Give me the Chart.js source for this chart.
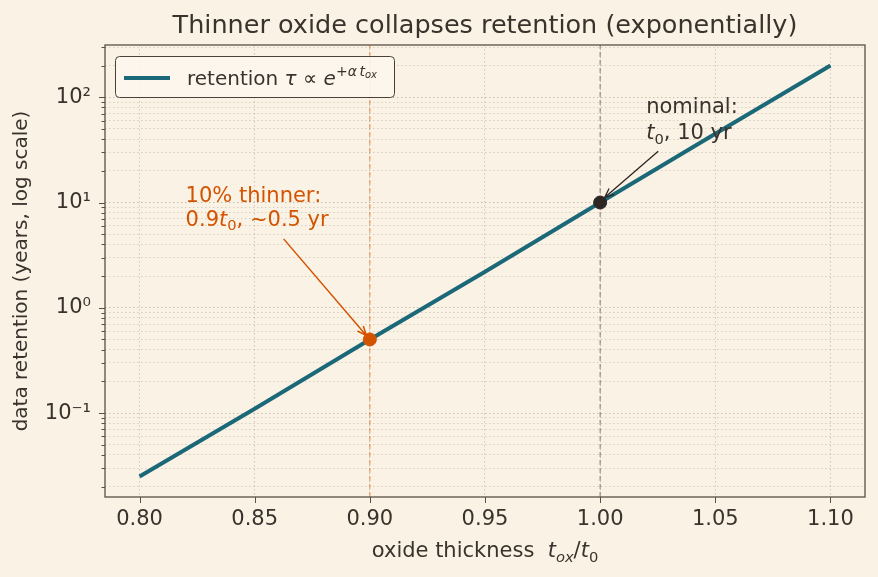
<!DOCTYPE html>
<html>
<head>
<meta charset="utf-8">
<script src="https://cdn.jsdelivr.net/npm/chart.js@4.4.0/dist/chart.umd.min.js"></script>
<style>
  html, body { margin: 0; padding: 0; background: #faf2e4; }
  canvas { display: block; }
</style>
</head>
<body>
<canvas id="myChart" width="878" height="577"></canvas>
<script>
// valeurs
const tox = [0.80, 0.85, 0.90, 0.95, 1.00, 1.05, 1.10];
const retention = [0.025, 0.11, 0.5, 2.2, 10, 45, 200];
const xTicks = [0.80, 0.85, 0.90, 0.95, 1.00, 1.05, 1.10];
const yDecades = [-2, -1, 0, 1, 2];
const thinPoint = [0.90, 0.5];
const nominalPoint = [1.00, 10];
const xRange = [0.785, 1.115];
const yRange = [0.01595, 313.5];
const thinText = [0.82, 6];
const nominalText = [1.02, 40];

const FONT = '"DejaVu Sans", sans-serif';
const FS = 21;
const BG = '#faf2e4';
const TEXT = '#3a322d';
const TEAL = '#1b6878';
const ORANGE = '#d35400';
const DARK = '#2e2622';
const SPINE = '#5a4f45';

// ticks du log : 1..9 x 10^n
const yTickValues = [];
yDecades.forEach(n => {
    for (let k = 1; k <= 9; k++) {
        const v = k * Math.pow(10, n);
        if (v >= yRange[0] && v <= yRange[1]) yTickValues.push(v);
    }
});

function isDecade(v) {
    const l = Math.log10(v);
    return Math.abs(l - Math.round(l)) < 1e-6;
}

const SUP = { '-': '⁻', '0': '⁰', '1': '¹', '2': '²', '3': '³', '4': '⁴', '5': '⁵', '6': '⁶', '7': '⁷', '8': '⁸', '9': '⁹' };
function powLabel(v) {
    const e = String(Math.round(Math.log10(v)));
    return '10' + e.split('').map(c => SUP[c]).join('');
}

// texte "riche" (italique, indices, exposants)
function drawRich(ctx, x, y, parts, base, color, dry) {
    ctx.save();
    ctx.fillStyle = color;
    ctx.textBaseline = 'alphabetic';
    ctx.textAlign = 'left';
    let cx = x;
    parts.forEach(p => {
        const size = base * (p.s || 1);
        ctx.font = (p.i ? 'italic ' : '') + size + 'px ' + FONT;
        if (!dry) ctx.fillText(p.t, cx, y - (p.dy || 0) * base);
        cx += ctx.measureText(p.t).width;
    });
    ctx.restore();
    return cx - x;
}

function arrow(ctx, x0, y0, x1, y1, color, lw) {
    const a = Math.atan2(y1 - y0, x1 - x0);
    const h = 10, w = 0.4;
    ctx.save();
    ctx.strokeStyle = color;
    ctx.lineWidth = lw;
    ctx.beginPath();
    ctx.moveTo(x0, y0);
    ctx.lineTo(x1, y1);
    ctx.moveTo(x1 - h * Math.cos(a - w), y1 - h * Math.sin(a - w));
    ctx.lineTo(x1, y1);
    ctx.lineTo(x1 - h * Math.cos(a + w), y1 - h * Math.sin(a + w));
    ctx.stroke();
    ctx.restore();
}

const decor = {
    id: 'decor',
    beforeDraw(chart) {
        const c = chart.ctx;
        c.save();
        c.fillStyle = BG;
        c.fillRect(0, 0, chart.width, chart.height);
        c.restore();
    },
    afterDraw(chart) {
        const c = chart.ctx;
        const a = chart.chartArea;
        const xs = chart.scales.x, ys = chart.scales.y;

        // cadre
        c.save();
        c.strokeStyle = SPINE;
        c.lineWidth = 1.3;
        c.strokeRect(a.left, a.top, a.right - a.left, a.bottom - a.top);
        // graduations
        c.lineWidth = 1;
        c.beginPath();
        xTicks.forEach(v => {
            const px = Math.round(xs.getPixelForValue(v)) + 0.5;
            c.moveTo(px, a.bottom);
            c.lineTo(px, a.bottom + 6);
        });
        yTickValues.forEach(v => {
            const py = Math.round(ys.getPixelForValue(v)) + 0.5;
            c.moveTo(a.left, py);
            c.lineTo(a.left - (isDecade(v) ? 6 : 3.5), py);
        });
        c.stroke();
        c.restore();

        // titre
        c.save();
        c.fillStyle = TEXT;
        c.font = '25.5px ' + FONT;
        c.textAlign = 'center';
        c.textBaseline = 'alphabetic';
        c.fillText('Thinner oxide collapses retention (exponentially)', (a.left + a.right) / 2, 33);
        c.restore();

        // titre axe x
        const xl = [
            { t: 'oxide thickness  ' }, { t: 't', i: 1 }, { t: 'ox', i: 1, s: 0.7, dy: -0.22 },
            { t: '/' }, { t: 't', i: 1 }, { t: '0', s: 0.7, dy: -0.22 }
        ];
        const wx = drawRich(c, 0, 0, xl, FS, TEXT, true);
        drawRich(c, (a.left + a.right) / 2 - wx / 2, 557, xl, FS, TEXT);

        // légende
        c.save();
        c.fillStyle = 'rgba(252,246,236,0.9)';
        c.strokeStyle = '#4b4038';
        c.lineWidth = 1;
        c.beginPath();
        c.roundRect(a.left + 10.5, a.top + 11.5, 279, 41, 4);
        c.fill();
        c.stroke();
        c.strokeStyle = TEAL;
        c.lineWidth = 4;
        c.beginPath();
        c.moveTo(a.left + 19, a.top + 33);
        c.lineTo(a.left + 65, a.top + 33);
        c.stroke();
        c.restore();
        drawRich(c, a.left + 82, a.top + 40, [
            { t: 'retention ' }, { t: 'τ', i: 1 }, { t: ' ∝ ' }, { t: 'e', i: 1 },
            { t: '+', s: 0.7, dy: 0.45 }, { t: 'α', i: 1, s: 0.7, dy: 0.45 }, { t: ' ', s: 0.4 },
            { t: 't', i: 1, s: 0.7, dy: 0.45 }, { t: 'ox', i: 1, s: 0.5, dy: 0.33 }
        ], FS - 1, TEXT);

        // annotations
        const tx = xs.getPixelForValue(thinText[0]), ty = ys.getPixelForValue(thinText[1]);
        drawRich(c, tx, ty - 24, [{ t: '10% thinner:' }], FS, ORANGE);
        drawRich(c, tx, ty, [{ t: '0.9' }, { t: 't', i: 1 }, { t: '0', s: 0.7, dy: -0.22 }, { t: ', ~0.5 yr' }], FS, ORANGE);
        const p1x = xs.getPixelForValue(thinPoint[0]), p1y = ys.getPixelForValue(thinPoint[1]);
        arrow(c, tx + 98, ty + 13, p1x - 3.5, p1y - 4, ORANGE, 1.5);

        const nx = xs.getPixelForValue(nominalText[0]), ny = ys.getPixelForValue(nominalText[1]);
        drawRich(c, nx, ny - 26, [{ t: 'nominal:' }], FS, TEXT);
        drawRich(c, nx, ny, [{ t: 't', i: 1 }, { t: '0', s: 0.7, dy: -0.22 }, { t: ', 10 yr' }], FS, TEXT);
        const p2x = xs.getPixelForValue(nominalPoint[0]), p2y = ys.getPixelForValue(nominalPoint[1]);
        arrow(c, nx + 12, ny + 12, p2x + 4.5, p2y - 5, DARK, 1.3);
    }
};

Chart.defaults.font.family = FONT;
Chart.defaults.color = TEXT;

const ctx = document.getElementById('myChart').getContext('2d');
new Chart(ctx, {
    type: 'scatter',
    data: {
        datasets: [
            { data: [{ x: thinPoint[0], y: thinPoint[1] }], backgroundColor: ORANGE, borderColor: ORANGE, pointRadius: 6.5, order: 0 },
            { data: [{ x: nominalPoint[0], y: nominalPoint[1] }], backgroundColor: DARK, borderColor: DARK, pointRadius: 6.5, order: 0 },
            { data: tox.map((x, i) => ({ x: x, y: retention[i] })), showLine: true, borderColor: TEAL, borderWidth: 4, pointRadius: 0, order: 1 },
            { data: [{ x: thinPoint[0], y: yRange[0] }, { x: thinPoint[0], y: yRange[1] }], showLine: true,
              borderColor: 'rgba(211,84,0,0.5)', borderWidth: 1.2, borderDash: [5, 3], pointRadius: 0, order: 2 },
            { data: [{ x: nominalPoint[0], y: yRange[0] }, { x: nominalPoint[0], y: yRange[1] }], showLine: true,
              borderColor: 'rgba(90,80,72,0.6)', borderWidth: 1.2, borderDash: [5, 3], pointRadius: 0, order: 2 }
        ]
    },
    options: {
        responsive: false,
        animation: false,
        layout: { padding: { left: 10, right: 13, top: 45, bottom: 0 } },
        plugins: { legend: { display: false }, tooltip: { enabled: false }, title: { display: false } },
        scales: {
            x: {
                type: 'linear',
                min: xRange[0],
                max: xRange[1],
                afterBuildTicks: s => { s.ticks = xTicks.map(v => ({ value: v })); },
                afterFit: s => { s.height = 80; },
                ticks: { autoSkip: false, maxRotation: 0, callback: v => v.toFixed(2), font: { size: FS }, padding: 10 },
                grid: { drawTicks: false, color: 'rgba(125,115,100,0.42)', lineWidth: 0.8 },
                border: { display: false, dash: [1.5, 2.5] }
            },
            y: {
                type: 'logarithmic',
                min: yRange[0],
                max: yRange[1],
                afterBuildTicks: s => { s.ticks = yTickValues.map(v => ({ value: v })); },
                afterFit: s => { s.width = 95; },
                ticks: { autoSkip: false, callback: v => isDecade(v) ? powLabel(v) : '', font: { size: FS }, padding: 14 },
                grid: {
                    drawTicks: false,
                    lineWidth: 0.8,
                    color: c => (c.tick && isDecade(c.tick.value)) ? 'rgba(125,115,100,0.5)' : 'rgba(125,115,100,0.35)'
                },
                border: { display: false, dash: [1.5, 2.5] },
                title: { display: true, text: 'data retention (years, log scale)', font: { size: FS - 1 }, padding: { top: 0, bottom: 0 } }
            }
        }
    },
    plugins: [decor]
});
</script>
</body>
</html>
